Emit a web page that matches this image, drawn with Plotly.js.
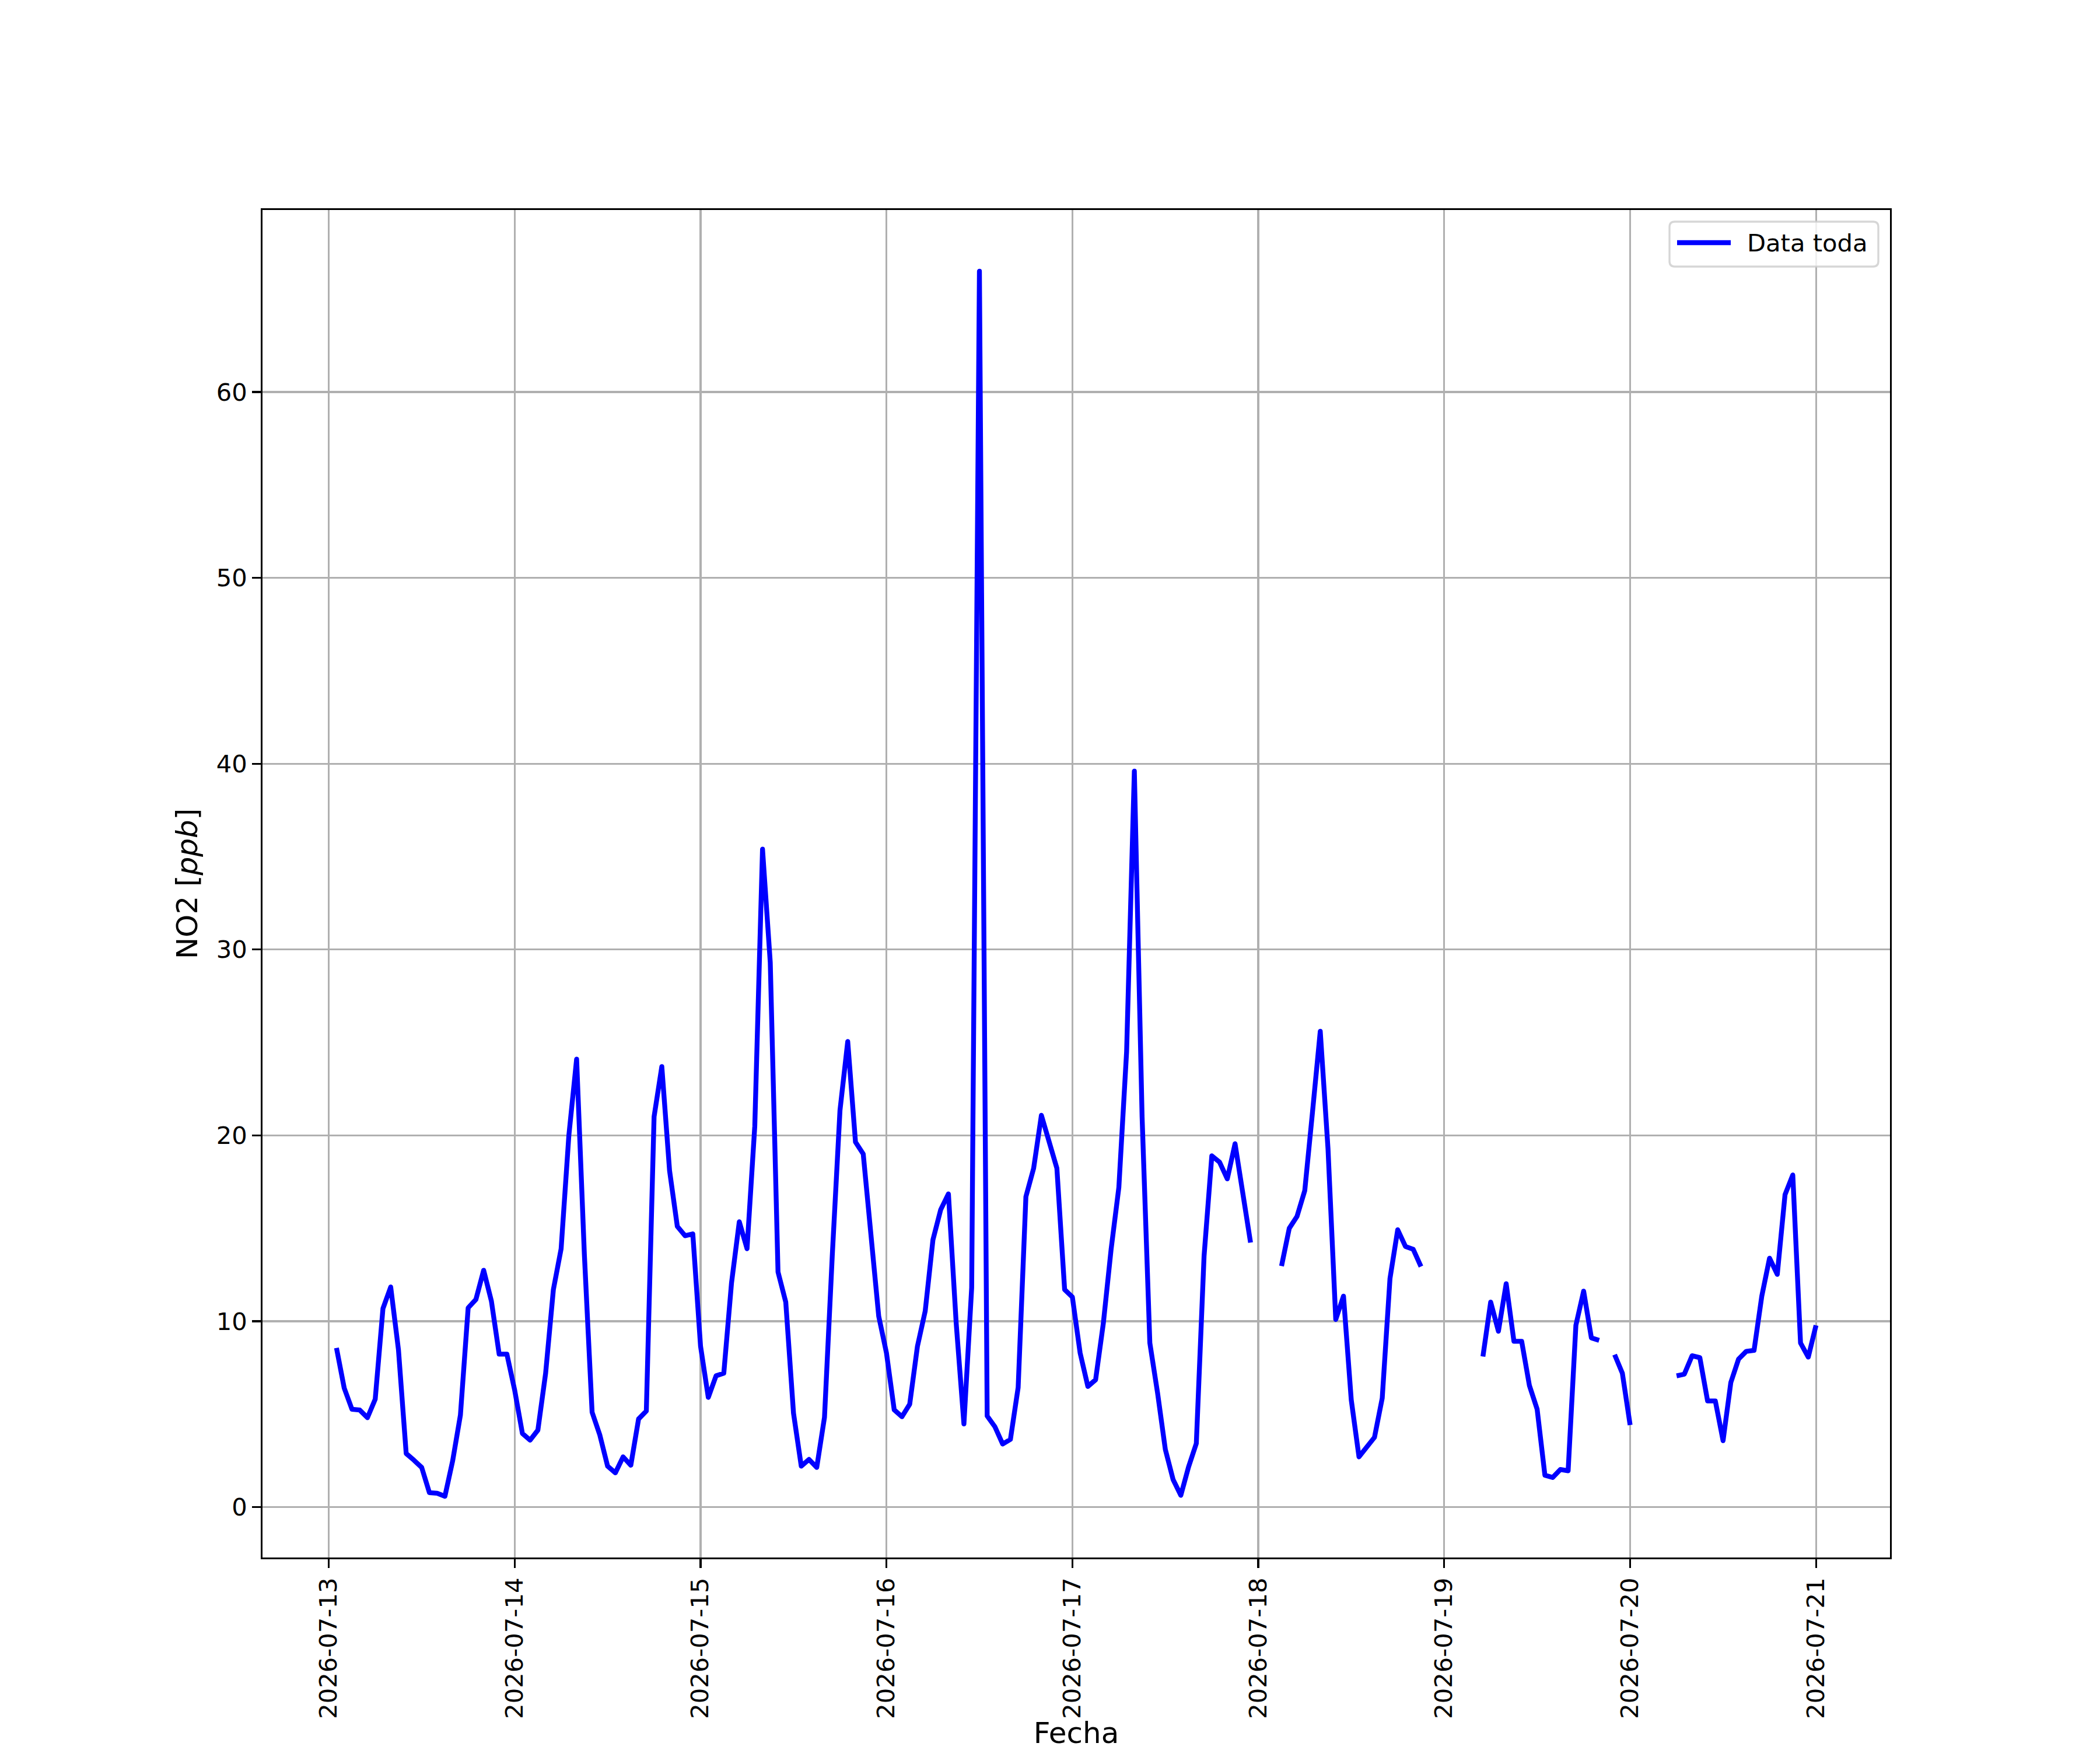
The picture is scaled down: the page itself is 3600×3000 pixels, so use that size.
<!DOCTYPE html>
<html>
<head>
<meta charset="utf-8">
<script src="https://cdn.plot.ly/plotly-3.0.1.min.js"></script>
<style>
html,body{margin:0;padding:0;background:#fff;}
.scatterlayer path.js-line{stroke-linejoin:round;}
</style>
</head>
<body>
<div id="chart" style="width:3600px;height:3000px;"></div>
<script>
// ---- data (hourly NO2, ppb); null = missing hour ----
const firstHour = [2026, 6, 13, 1]; // 2026-07-13 01:00 (month 0-based)
const no2_0713 = [8.56, 6.4, 5.26, 5.22, 4.81, 5.8, 10.68, 11.84, 8.47, 2.88, 2.52, 2.13, 0.77, 0.74, 0.58, 2.49, 4.95, 10.72, 11.17, 12.74, 11.08, 8.23, 8.23];
const no2_0714 = [6.3, 3.96, 3.6, 4.14, 7.2, 11.7, 13.9, 20.0, 24.1, 13.6, 5.1, 3.87, 2.2, 1.84, 2.7, 2.25, 4.74, 5.17, 21.0, 23.7, 18.1, 15.1, 14.6, 14.7];
const no2_0715 = [8.65, 5.9, 7.06, 7.2, 12.07, 15.35, 13.9, 20.5, 35.4, 29.3, 12.65, 11.03, 5.05, 2.2, 2.56, 2.13, 4.83, 13.5, 21.35, 25.05, 19.64, 19.0, 14.4, 10.27];
const no2_0716 = [8.29, 5.23, 4.86, 5.53, 8.65, 10.54, 14.38, 16.0, 16.85, 9.9, 4.47, 11.8, 66.5, 4.9, 4.32, 3.39, 3.64, 6.43, 16.7, 18.23, 21.08, 19.68, 18.23, 11.7];
const no2_0717 = [11.3, 8.29, 6.49, 6.85, 9.9, 13.87, 17.2, 24.5, 39.6, 21.0, 8.83, 6.13, 3.1, 1.48, 0.63, 2.16, 3.42, 13.5, 18.9, 18.56, 17.66, 19.55, 16.94, 14.23];
const no2_0718 = [null, null, null, 12.97, 15.0, 15.64, 17.03, 21.26, 25.6, 19.28, 10.09, 11.35, 5.77, 2.7, 3.2, 3.75, 5.86, 12.29, 14.92, 14.02, 13.87, 12.94, null, null];
const no2_0719 = [null, null, null, null, null, 8.1, 11.03, 9.46, 12.02, 8.92, 8.92, 6.54, 5.26, 1.71, 1.59, 2.02, 1.95, 9.78, 11.62, 9.1, 8.97, null, 8.2, 7.2];
const no2_0720 = [4.41, null, null, null, null, null, 7.06, 7.15, 8.14, 8.04, 5.71, 5.71, 3.57, 6.7, 7.96, 8.38, 8.43, 11.35, 13.39, 12.52, 16.81, 17.87, 8.83, 8.07];
const no2_0721 = [9.78];

const xTickLabels = ["2026-07-13","2026-07-14","2026-07-15","2026-07-16","2026-07-17","2026-07-18","2026-07-19","2026-07-20","2026-07-21"];
const yTickVals = [0, 10, 20, 30, 40, 50, 60];
const seriesName = "Data toda";

// ---- build series ----
const values = [].concat(no2_0713, no2_0714, no2_0715, no2_0716, no2_0717, no2_0718, no2_0719, no2_0720, no2_0721);
const t0 = Date.UTC(firstHour[0], firstHour[1], firstHour[2], firstHour[3]);
const HOUR = 3600000;
function fmt(ms){
  const d = new Date(ms); const p = n => String(n).padStart(2,'0');
  return d.getUTCFullYear()+'-'+p(d.getUTCMonth()+1)+'-'+p(d.getUTCDate())+' '+p(d.getUTCHours())+':'+p(d.getUTCMinutes())+':'+p(d.getUTCSeconds());
}
const times = values.map((v,i) => fmt(t0 + i*HOUR));
const tFirst = t0, tLast = t0 + (values.length-1)*HOUR;
const xPad = 0.05*(tLast - tFirst);
const valid = values.filter(v => v !== null);
const vMin = Math.min(...valid), vMax = Math.max(...valid);
const yPad = 0.05*(vMax - vMin);

// ---- layout geometry (pixels) ----
const FIG_W = 3600, FIG_H = 3000;
const M = {l:450, r:360, t:360, b:330};
const PW = FIG_W - M.l - M.r, PH = FIG_H - M.t - M.b;
const fx = px => (px - M.l)/PW;
const fy = py => (FIG_H - M.b - py)/PH;
const FONT = "DejaVu Sans, Verdana, sans-serif";
const LW = 3.33;

// legend box (rounded)
const LB = {l:2862, r:3220, t:380, b:457, rad:9};
function roundedPath(b){
  const L=b.l,R=b.r,T=b.t,B=b.b,r=b.rad;
  const P=(x,y)=>fx(x)+','+fy(y);
  return 'M'+P(L+r,T)+' L'+P(R-r,T)+' Q'+P(R,T)+' '+P(R,T+r)+' L'+P(R,B-r)+' Q'+P(R,B)+' '+P(R-r,B)+
         ' L'+P(L+r,B)+' Q'+P(L,B)+' '+P(L,B-r)+' L'+P(L,T+r)+' Q'+P(L,T)+' '+P(L+r,T)+' Z';
}

const trace = {
  type:'scatter', mode:'lines', name: seriesName,
  x: times, y: values, connectgaps:false,
  line:{color:'#0000ff', width:8.33},
  showlegend:false, hoverinfo:'skip'
};

const axisCommon = {
  ticks:'outside', ticklen:14.6, tickwidth:LW, tickcolor:'#000',
  showline:true, linecolor:'#000', linewidth:LW, mirror:true,
  showgrid:true, gridcolor:'#b0b0b0', gridwidth:LW, zeroline:false,
  tickfont:{family:FONT, size:41.67, color:'#000'}, automargin:false
};

const layout = {
  width:FIG_W, height:FIG_H, margin:M,
  paper_bgcolor:'#fff', plot_bgcolor:'#fff',
  font:{family:FONT, color:'#000'},
  showlegend:false,
  xaxis: Object.assign({}, axisCommon, {
    type:'date', range:[fmt(tFirst - xPad), fmt(tLast + xPad)],
    tickmode:'array', tickvals:xTickLabels, ticktext:xTickLabels, tickangle:-90,
    title:{text:'Fecha', font:{family:FONT, size:50, color:'#000'}, standoff:20}
  }),
  yaxis: Object.assign({}, axisCommon, {
    range:[vMin - yPad, vMax + yPad],
    tickmode:'array', tickvals:yTickVals, ticktext:yTickVals.map(String),
    title:{text:'NO2 [<i>ppb</i>]', font:{family:FONT, size:50, color:'#000'}, standoff:17}
  }),
  shapes:[
    {type:'path', xref:'paper', yref:'paper', path:roundedPath(LB), layer:'above',
     fillcolor:'rgba(255,255,255,0.8)', line:{color:'rgba(204,204,204,0.8)', width:LW}},
    {type:'line', xref:'paper', yref:'paper', layer:'above',
     x0:fx(2875), x1:fx(2967), y0:fy(416), y1:fy(416), line:{color:'#0000ff', width:8.33}}
  ],
  annotations:[
    {xref:'paper', yref:'paper', x:fx(2993), y:fy(417), xanchor:'left', yanchor:'middle',
     text:seriesName, showarrow:false, font:{family:FONT, size:41.67, color:'#000'}}
  ]
};

Plotly.newPlot('chart', [trace], layout, {staticPlot:true, displayModeBar:false});
</script>
</body>
</html>
